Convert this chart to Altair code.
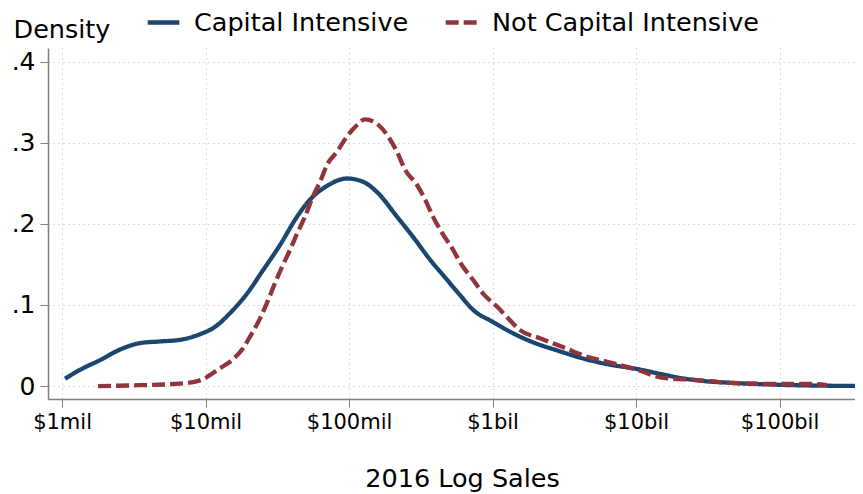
import altair as alt
import pandas as pd

# log10(2016 sales, $) and kernel density
cap_x = [6.021, 6.125, 6.265, 6.404, 6.544, 6.683, 6.822, 6.962, 7.066, 7.171,
         7.289, 7.401, 7.519, 7.638, 7.728, 7.847, 7.986, 8.098, 8.202, 8.334,
         8.446, 8.564, 8.683, 8.774, 8.864, 9.003, 9.122, 9.296, 9.449, 9.610,
         9.798, 10.007, 10.167, 10.307, 10.481, 10.655, 11.003, 11.282, 11.575]
cap_y = [0.009, 0.020, 0.032, 0.045, 0.053, 0.055, 0.057, 0.064, 0.073, 0.090,
         0.114, 0.143, 0.174, 0.209, 0.230, 0.247, 0.256, 0.252, 0.238, 0.209,
         0.184, 0.156, 0.131, 0.112, 0.094, 0.079, 0.067, 0.053, 0.044, 0.035,
         0.027, 0.021, 0.015, 0.010, 0.006, 0.004, 0.0015, 0.0005, 0.0]

noncap_x = [6.251, 6.544, 6.822, 6.962, 7.101, 7.185, 7.261, 7.310, 7.380,
            7.436, 7.484, 7.533, 7.589, 7.638, 7.693, 7.749, 7.798, 7.847,
            7.916, 7.986, 8.056, 8.111, 8.174, 8.272, 8.334, 8.390, 8.474,
            8.530, 8.585, 8.648, 8.718, 8.787, 8.864, 8.934, 9.031, 9.122,
            9.192, 9.331, 9.491, 9.645, 9.798, 10.007, 10.188, 10.425, 10.655,
            11.003, 11.213, 11.331]
noncap_y = [0.000, 0.001, 0.003, 0.007, 0.022, 0.032, 0.0465, 0.061, 0.0835,
            0.106, 0.127, 0.147, 0.168, 0.188, 0.209, 0.234, 0.252, 0.273,
            0.289, 0.308, 0.322, 0.329, 0.326, 0.308, 0.289, 0.267, 0.248,
            0.230, 0.209, 0.189, 0.170, 0.149, 0.131, 0.114, 0.098, 0.081,
            0.069, 0.059, 0.048, 0.037, 0.030, 0.020, 0.010, 0.0074, 0.004,
            0.0025, 0.0025, 0.0012]

series = ["Capital Intensive", "Not Capital Intensive"]
x_ticks = [6, 7, 8, 9, 10, 11]
x_tick_labels = ["$1mil", "$10mil", "$100mil", "$1bil", "$10bil", "$100bil"]
y_ticks = [0, 0.1, 0.2, 0.3, 0.4]

rows = []
for i, (xv, yv) in enumerate(zip(cap_x, cap_y)):
    rows.append({"logsales": xv, "density": yv, "group": series[0], "order": i})
for i, (xv, yv) in enumerate(zip(noncap_x, noncap_y)):
    rows.append({"logsales": xv, "density": yv, "group": series[1], "order": i})
df = pd.DataFrame(rows)

label_map = "{" + ",".join(f"'{v}':'{l}'" for v, l in zip(x_ticks, x_tick_labels)) + "}"

FONT = "DejaVu Sans"
GRID = "#b4b4b4"
AX = "#7f7f7f"

legend_kw = dict(title=None, orient="none", direction="horizontal",
                 legendX=97, legendY=-44,
                 symbolType="stroke", symbolStrokeWidth=4.5,
                 symbolSize=1000, labelFontSize=25.5,
                 labelFont=FONT, labelColor="black", labelLimit=0,
                 labelOffset=12, columnPadding=27, padding=0)

chart = alt.Chart(df).mark_line(strokeWidth=4.3, strokeCap="butt", clip=True,
                                interpolate="monotone").encode(
    x=alt.X("logsales:Q",
            scale=alt.Scale(domain=[5.902, 11.526], nice=False, zero=False),
            axis=alt.Axis(values=x_ticks,
                          labelExpr=f"{label_map}[datum.value + '']",
                          title="2016 Log Sales", titleFontSize=25.5,
                          titleFontWeight="normal", titlePadding=34,
                          titleX=414, titleAlign="center",
                          labelFontSize=21, labelPadding=4, tickSize=8,
                          grid=True, gridDash=[1, 4], gridColor=GRID,
                          domainColor=AX, tickColor=AX, domainWidth=1.5,
                          labelColor="black", titleColor="black",
                          labelFont=FONT, titleFont=FONT)),
    y=alt.Y("density:Q",
            scale=alt.Scale(domain=[-0.016, 0.417], nice=False, zero=False),
            axis=alt.Axis(values=y_ticks,
                          labelExpr="datum.value == 0 ? '0' : replace(format(datum.value, '.1f'), '0.', '.')",
                          title="Density", titleAngle=0, titleAlign="left",
                          titleBaseline="alphabetic", titleX=-35, titleY=-11,
                          titleFontSize=25.5, titleFontWeight="normal",
                          labelFontSize=25, labelPadding=5, tickSize=8,
                          grid=True, gridDash=[1, 4], gridColor=GRID,
                          domainColor=AX, tickColor=AX, domainWidth=1.5,
                          labelColor="black", titleColor="black",
                          labelFont=FONT, titleFont=FONT)),
    color=alt.Color("group:N",
                    scale=alt.Scale(domain=series, range=["#1a476f", "#90353b"]),
                    legend=alt.Legend(**legend_kw)),
    strokeDash=alt.StrokeDash("group:N",
                              scale=alt.Scale(domain=series, range=[[1, 0], [13, 5]]),
                              legend=alt.Legend(**legend_kw)),
    order="order:Q",
).properties(
    width=807, height=351,
    autosize=alt.AutoSizeParams(type="none"),
    padding={"left": 40, "top": 40, "right": 0, "bottom": 95},
    background="white",
).configure_view(stroke=None)

chart.save("out.html", embed_options={"renderer": "svg", "actions": False})
